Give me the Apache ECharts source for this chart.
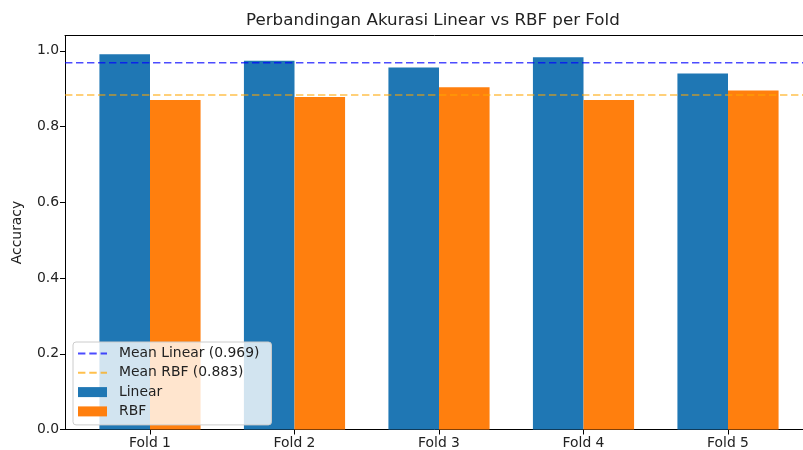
<!DOCTYPE html>
<html lang="id">
<head>
  <meta charset="UTF-8">
  <title>Perbandingan Akurasi Linear vs RBF per Fold</title>
  <script src="https://cdn.jsdelivr.net/npm/echarts/dist/echarts.min.js"></script>
  <style>
    html, body { margin: 0; }
    #main { width: 803px; height: 450px; }
  </style>
</head>
<body>
  <div id="main"></div>

  <script>
    const folds = ['Fold 1', 'Fold 2', 'Fold 3', 'Fold 4', 'Fold 5'];
    const linearAcc = [0.991, 0.974, 0.956, 0.983, 0.940];
    const rbfAcc = [0.870, 0.878, 0.904, 0.870, 0.895];
    const yTicks = [0, 0.2, 0.4, 0.6, 0.8, 1.0];
    const yMax = 1.0405;

    const mean = arr => arr.reduce((a, b) => a + b, 0) / arr.length;
    const meanLinear = mean(linearAcc);
    const meanRbf = mean(rbfAcc);
    const nameMeanLinear = 'Mean Linear (' + meanLinear.toFixed(3) + ')';
    const nameMeanRbf = 'Mean RBF (' + meanRbf.toFixed(3) + ')';

    const font = 'DejaVu Sans';
    const ink = '#222';
    // dashed legend swatch, 29x10 box
    const dashIcon = 'path://M0,0L0,0M0,4h7.4v2h-7.4zM11.3,4h7.4v2h-7.4zM22.6,4h6.4v2h-6.4zM29,10L29,10';

    const chart = echarts.init(document.getElementById('main'));

    chart.setOption({
      animation: false,
      textStyle: { fontFamily: font },
      title: {
        text: 'Perbandingan Akurasi Linear vs RBF per Fold',
        left: 246, top: 12, padding: 0,
        textStyle: { fontSize: 16.7, fontWeight: 'normal', color: ink, fontFamily: font }
      },
      legend: {
        orient: 'vertical', left: 73, top: 342,
        padding: [3.5, 12, 5.5, 5],
        itemGap: 3.3, itemWidth: 29, itemHeight: 10,
        backgroundColor: 'rgba(255,255,255,0.8)',
        borderColor: '#cccccc', borderWidth: 1, borderRadius: 3,
        textStyle: { fontSize: 13.9, color: ink, fontFamily: font, lineHeight: 16, padding: [0, 0, 0, 7] },
        data: [
          { name: nameMeanLinear, icon: dashIcon },
          { name: nameMeanRbf, icon: dashIcon },
          { name: 'Linear', icon: 'rect' },
          { name: 'RBF', icon: 'rect' }
        ]
      },
      grid: [
        // full axes box (spines, y axis, mean lines)
        { left: 65, width: 747, top: 35.5, bottom: 20.5, outerBoundsMode: 'none', containLabel: false },
        // bar slots
        { left: 77.75, width: 722.5, top: 35.5, bottom: 20.5, outerBoundsMode: 'none', containLabel: false }
      ],
      xAxis: [
        {
          type: 'value', gridIndex: 0, min: 0, max: 1,
          axisLine: { show: true, lineStyle: { color: '#000', width: 1 } },
          axisTick: { show: false }, axisLabel: { show: false }, splitLine: { show: false }
        },
        {
          type: 'value', gridIndex: 0, position: 'top', min: 0, max: 1,
          axisLine: { show: true, lineStyle: { color: '#000', width: 1 } },
          axisTick: { show: false }, axisLabel: { show: false }, splitLine: { show: false }
        },
        {
          type: 'category', gridIndex: 1, data: folds,
          axisLine: { show: false },
          axisTick: { show: true, alignWithLabel: true, length: 5, lineStyle: { color: '#000' } },
          axisLabel: { fontSize: 13.9, color: ink, margin: 7, fontFamily: font },
          splitLine: { show: false }
        }
      ],
      yAxis: [
        {
          type: 'value', gridIndex: 0, min: 0, max: yMax,
          name: 'Accuracy', nameLocation: 'middle', nameRotate: 90, nameGap: 41,
          nameTextStyle: { fontSize: 13.9, color: ink, fontFamily: font },
          axisLine: { show: true, lineStyle: { color: '#000', width: 1 } },
          axisTick: { show: true, length: 5, customValues: yTicks, lineStyle: { color: '#000' } },
          axisLabel: {
            customValues: yTicks, fontSize: 13.9, color: ink, margin: 6, fontFamily: font,
            formatter: v => v.toFixed(1)
          },
          splitLine: { show: false }
        },
        {
          type: 'value', gridIndex: 1, min: 0, max: yMax,
          axisLine: { show: false }, axisTick: { show: false }, axisLabel: { show: false },
          splitLine: { show: false }
        }
      ],
      series: [
        {
          name: 'Linear', type: 'bar', xAxisIndex: 2, yAxisIndex: 1,
          data: linearAcc, barWidth: '35%', barGap: '0%', z: 2,
          itemStyle: { color: '#1f77b4' }
        },
        {
          name: 'RBF', type: 'bar', xAxisIndex: 2, yAxisIndex: 1,
          data: rbfAcc, barWidth: '35%', barGap: '0%', z: 2,
          itemStyle: { color: '#ff7f0e' }
        },
        {
          name: nameMeanLinear, type: 'line', xAxisIndex: 0, yAxisIndex: 0,
          data: [[0, meanLinear], [1, meanLinear]], symbol: 'none', z: 3,
          lineStyle: { color: 'rgba(0,0,255,0.7)', width: 1.5, type: [7.4, 3.6] },
          itemStyle: { color: 'rgba(0,0,255,0.7)' }
        },
        {
          name: nameMeanRbf, type: 'line', xAxisIndex: 0, yAxisIndex: 0,
          data: [[0, meanRbf], [1, meanRbf]], symbol: 'none', z: 3,
          lineStyle: { color: 'rgba(255,165,0,0.7)', width: 1.5, type: [7.4, 3.6] },
          itemStyle: { color: 'rgba(255,165,0,0.7)' }
        }
      ]
    });
  </script>
</body>
</html>
